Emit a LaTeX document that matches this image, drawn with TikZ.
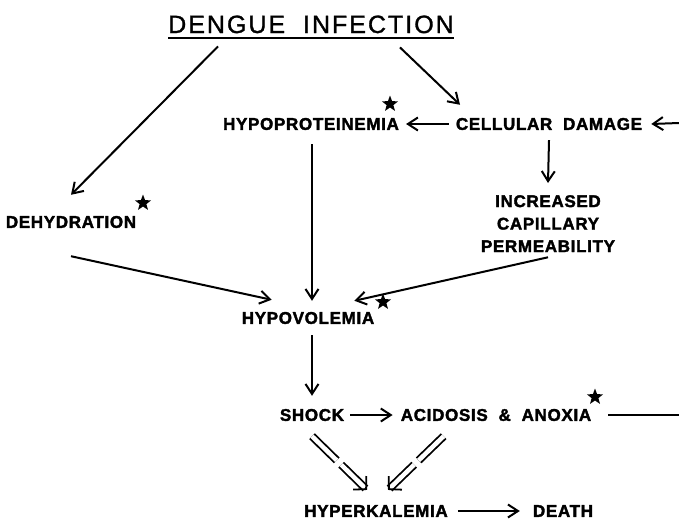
\documentclass[tikz,border=0pt]{standalone}
\usepackage{fontspec}
\setmainfont{Liberation Sans}[LetterSpace=4,BoldFeatures={FakeBold=2}]
\usetikzlibrary{arrows.meta,calc,shapes.geometric}

\begin{document}
\begin{tikzpicture}[x=1pt,y=-1pt,
    lbl/.style={font=\fontsize{17}{22.5}\selectfont\bfseries,inner sep=0pt},
    arr/.style={line width=2pt,-{Straight Barb[length=10pt,width=13pt]}},
    dbl/.style={double,double distance=4.5pt,line width=1.8pt},
    starmark/.style={star,star points=5,star point ratio=2.4,fill=black,inner sep=0pt,minimum size=17pt}]
  \useasboundingbox (0,0) rectangle (679,522);
  % title
  \node[font=\fontsize{25}{30}\selectfont\addfontfeature{LetterSpace=8,FakeBold=1.2},inner sep=0pt,anchor=base] (title) at (311,33) {DENGUE\ \ INFECTION};
  \draw[line width=2.6pt] ([yshift=-5pt]title.base west) -- ([yshift=-5pt]title.base east);
  % labels
  \node[lbl] (hypo) at (311,124) {HYPOPROTEINEMIA};
  \node[lbl] (cell) at (549,124) {CELLULAR\ \ DAMAGE};
  \node[lbl,align=center,anchor=north] (perm) at (548,195) {INCREASED\\CAPILLARY\\PERMEABILITY};
  \node[lbl] (dehyd) at (71,222) {DEHYDRATION};
  \node[lbl] (hypov) at (308,318) {HYPOVOLEMIA};
  \node[lbl] (shock) at (312,415) {SHOCK};
  \node[lbl] (acid) at (496,415) {ACIDOSIS\ \ \&\ \ ANOXIA};
  \node[lbl] (hyperk) at (376,511) {HYPERKALEMIA};
  \node[lbl] (death) at (563,511) {DEATH};
  % stars
  \node[starmark] (starHypo) at (390,104) {};
  \node[starmark] (starDehyd) at (143,203) {};
  \node[starmark] (starHypov) at (383,302) {};
  \node[starmark] (starAcid) at (595,397) {};
  % loop back at the right edge
  \coordinate (edgeTop) at (679,123);
  \coordinate (edgeLow) at (679,415);
  % arrows
  \draw[arr] ([xshift=-93pt,yshift=-13pt]title.south) -- ([yshift=21pt]dehyd.north);
  \draw[arr] ([xshift=89pt,yshift=-14pt]title.south) -- ([xshift=-89pt,yshift=13pt]cell.north);
  \draw[arr] ([xshift=-7pt]cell.west) -- ([xshift=7pt]hypo.east);
  \draw[arr] (edgeTop) -- ([xshift=9pt]cell.east);
  \draw[arr] ([yshift=-10pt]cell.south) -- ([yshift=12pt]perm.north);
  \draw[arr] ([yshift=-28pt]dehyd.south) -- ([xshift=30pt,yshift=12pt]hypov.north west);
  \draw[arr] ([xshift=1pt,yshift=-14pt]hypo.south) -- ([xshift=4pt,yshift=11pt]hypov.north);
  \draw[arr] ([yshift=-5pt]perm.south) -- ([xshift=-20pt,yshift=11pt]hypov.north east);
  \draw[arr] ([xshift=4pt,yshift=-11pt]hypov.south) -- ([yshift=13pt]shock.north);
  \draw[arr] ([xshift=6pt]shock.east) -- ([xshift=-8pt]acid.west);
  \draw[line width=2pt] ([xshift=17pt]acid.east) -- (edgeLow);
  \draw[arr] ([xshift=10pt]hyperk.east) -- ([xshift=-13pt]death.west);
  % hollow arrows into hyperkalemia
  \coordinate (from1) at ([yshift=-15pt]shock.south);
  \coordinate (to1) at ([xshift=-9pt,yshift=15pt]hyperk.north);
  \coordinate (from2) at ([xshift=43pt,yshift=-15pt]acid.south west);
  \coordinate (to2) at ([xshift=12pt,yshift=15pt]hyperk.north);
  \foreach \n in {1,2} {
    \draw[dbl] (from\n) -- ($(from\n)!0.45!(to\n)$);
    \draw[dbl,-{Straight Barb[length=9pt,width=19pt,line width=1.8pt]}] ($(from\n)!0.53!(to\n)$) -- (to\n);
  }
\end{tikzpicture}
\end{document}
